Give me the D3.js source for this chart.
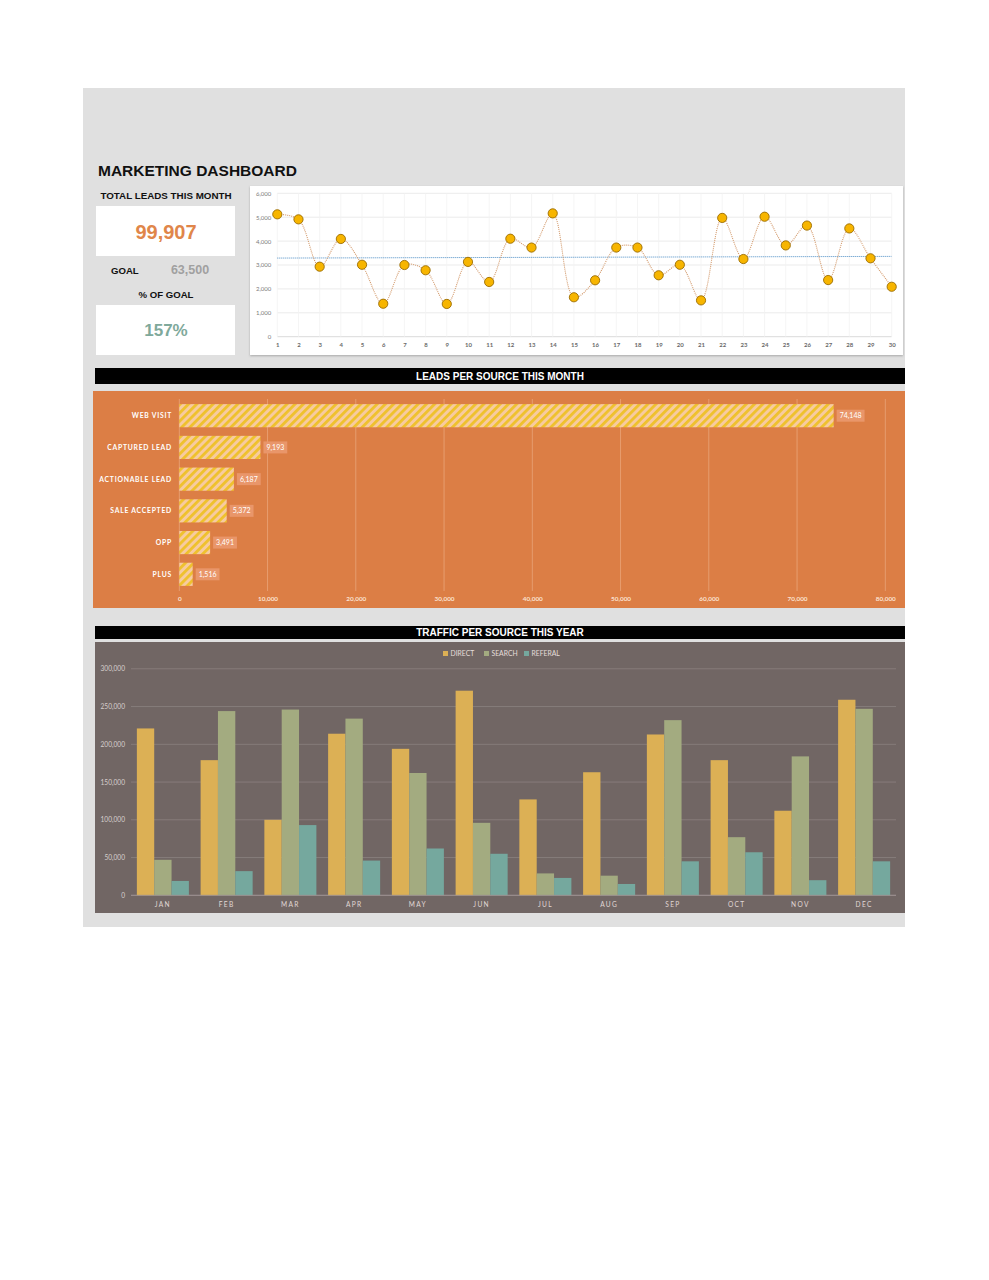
<!DOCTYPE html>
<html>
<head>
<meta charset="utf-8">
<script src="https://cdn.jsdelivr.net/npm/d3@7"></script>
<style>
  html, body { margin: 0; padding: 0; background: #ffffff; }
  svg { display: block; }
</style>
</head>
<body>
<svg id="chart" width="989" height="1280"></svg>
<script>
// ---------------- DATA ----------------
const totalLeads = "99,907";
const goalValue = "63,500";
const pctOfGoal = "157%";

const days = d3.range(1, 31);
const dailyLeads = [5120, 4910, 2930, 4090, 3010, 1380, 3000, 2780, 1370, 3130,
                    2290, 4100, 3730, 5160, 1650, 2360, 3730, 3730, 2570, 3010,
                    1520, 4970, 3250, 5020, 3820, 4650, 2370, 4530, 3280, 2090];
const trendLine = [3290, 3360];           // values at day 1 and day 30
const lineTicks = [0, 1000, 2000, 3000, 4000, 5000, 6000];

const sources = ["WEB VISIT", "CAPTURED LEAD", "ACTIONABLE LEAD", "SALE ACCEPTED", "OPP", "PLUS"];
const sourceLeads = [74148, 9193, 6187, 5372, 3491, 1516];
const sourceTicks = [0, 10000, 20000, 30000, 40000, 50000, 60000, 70000, 80000];

const months = ["JAN", "FEB", "MAR", "APR", "MAY", "JUN", "JUL", "AUG", "SEP", "OCT", "NOV", "DEC"];
const trafficSeries = ["DIRECT", "SEARCH", "REFERAL"];
const direct  = [221000, 179000, 100000, 214000, 194000, 271000, 127000, 163000, 213000, 179000, 112000, 259000];
const search  = [47000, 244000, 246000, 234000, 162000, 96000, 29000, 26000, 232000, 77000, 184000, 247000];
const referal = [19000, 32000, 93000, 46000, 62000, 55000, 23000, 15000, 45000, 57000, 20000, 45000];
const trafficTicks = [0, 50000, 100000, 150000, 200000, 250000, 300000];

// ---------------- DRAW ----------------
const svg = d3.select("#chart");
const fmt = d3.format(",");
const sans = "'Liberation Sans', Arial, sans-serif";
const chartFont = "Lato, 'Open Sans', sans-serif";

// gray dashboard background
svg.append("rect").attr("x", 83).attr("y", 88).attr("width", 822).attr("height", 839).attr("fill", "#e0e0e0");

// title
svg.append("text").attr("x", 98).attr("y", 176).text("MARKETING DASHBOARD")
  .attr("font-family", sans).attr("font-weight", "bold").attr("font-size", 15.5).attr("fill", "#111");

// KPI panel
svg.append("text").attr("x", 166).attr("y", 199).attr("text-anchor", "middle").text("TOTAL LEADS THIS MONTH")
  .attr("font-family", sans).attr("font-weight", "bold").attr("font-size", 9.8).attr("fill", "#111");
svg.append("rect").attr("x", 96).attr("y", 206).attr("width", 139).attr("height", 50).attr("fill", "#fff");
svg.append("text").attr("x", 166).attr("y", 239).attr("text-anchor", "middle").text(totalLeads)
  .attr("font-family", sans).attr("font-weight", "bold").attr("font-size", 20).attr("fill", "#e0864a");
svg.append("text").attr("x", 111).attr("y", 274).text("GOAL")
  .attr("font-family", sans).attr("font-weight", "bold").attr("font-size", 9.6).attr("fill", "#111");
svg.append("text").attr("x", 190).attr("y", 274).attr("text-anchor", "middle").text(goalValue)
  .attr("font-family", sans).attr("font-weight", "bold").attr("font-size", 12.5).attr("fill", "#a0a0a0");
svg.append("text").attr("x", 166).attr("y", 298).attr("text-anchor", "middle").text("% OF GOAL")
  .attr("font-family", sans).attr("font-weight", "bold").attr("font-size", 9.6).attr("fill", "#111");
svg.append("rect").attr("x", 96).attr("y", 305).attr("width", 139).attr("height", 50).attr("fill", "#fff");
svg.append("text").attr("x", 166).attr("y", 336).attr("text-anchor", "middle").text(pctOfGoal)
  .attr("font-family", sans).attr("font-weight", "bold").attr("font-size", 17).attr("fill", "#7fa99b");

// ---------- Line chart ----------
const defs = svg.append("defs");
const sh = defs.append("filter").attr("id", "shadow").attr("x", "-5%").attr("y", "-5%").attr("width", "110%").attr("height", "115%");
sh.append("feDropShadow").attr("dx", 0).attr("dy", 1).attr("stdDeviation", 1.2).attr("flood-color", "#000").attr("flood-opacity", 0.25);

svg.append("rect").attr("x", 250).attr("y", 186).attr("width", 653).attr("height", 169).attr("fill", "#fff").attr("filter", "url(#shadow)");

const lx = d3.scalePoint().domain(days).range([277.3, 891.7]);
const ly = d3.scaleLinear().domain([0, 6000]).range([336.7, 193.3]);

const lg = svg.append("g");
// horizontal gridlines
lg.selectAll("line.hg").data(lineTicks).join("line")
  .attr("x1", lx(1)).attr("x2", lx(30)).attr("y1", d => ly(d)).attr("y2", d => ly(d))
  .attr("stroke", d => d === 0 ? "#d0d0d0" : "#e6e6e6").attr("stroke-width", 0.8);
// vertical gridlines
lg.selectAll("line.vg").data(days).join("line")
  .attr("x1", d => lx(d)).attr("x2", d => lx(d)).attr("y1", ly(6000)).attr("y2", ly(0))
  .attr("stroke", "#f2f2f2").attr("stroke-width", 0.8);

const yAxisL = d3.axisLeft(ly).tickValues(lineTicks).tickFormat(fmt).tickSize(0).tickPadding(6);
const gyl = svg.append("g").attr("transform", `translate(${lx(1)},0)`).call(yAxisL);
gyl.select(".domain").remove();
gyl.selectAll("text").attr("font-family", chartFont).attr("font-size", 6).attr("fill", "#7a7a7a");

const xAxisL = d3.axisBottom(lx).tickSize(0).tickPadding(6);
const gxl = svg.append("g").attr("transform", `translate(0,${ly(0)})`).call(xAxisL);
gxl.select(".domain").remove();
gxl.selectAll("text").attr("font-family", chartFont).attr("font-weight", "bold").attr("font-size", 6).attr("fill", "#6a6a6a");

// trend line
lg.append("line")
  .attr("x1", lx(1)).attr("x2", lx(30)).attr("y1", ly(trendLine[0])).attr("y2", ly(trendLine[1]))
  .attr("stroke", "#4a8cc4").attr("stroke-width", 1).attr("stroke-dasharray", "1,1");

// smooth dotted line
const line = d3.line().x((d, i) => lx(days[i])).y(d => ly(d)).curve(d3.curveCatmullRom.alpha(0.5));
lg.append("path").datum(dailyLeads).attr("d", line)
  .attr("fill", "none").attr("stroke", "#d39a6c").attr("stroke-width", 1.1).attr("stroke-dasharray", "1,1");

lg.selectAll("circle").data(dailyLeads).join("circle")
  .attr("cx", (d, i) => lx(days[i])).attr("cy", d => ly(d)).attr("r", 4.6)
  .attr("fill", "#f7b500").attr("stroke", "#9a6b00").attr("stroke-width", 0.9);

// ---------- Banner 1 ----------
svg.append("rect").attr("x", 95).attr("y", 368).attr("width", 810).attr("height", 16).attr("fill", "#000");
svg.append("text").attr("x", 500).attr("y", 380).attr("text-anchor", "middle").text("LEADS PER SOURCE THIS MONTH")
  .attr("font-family", sans).attr("font-weight", "bold").attr("font-size", 10).attr("fill", "#fff");

// ---------- Horizontal bar chart ----------
svg.append("rect").attr("x", 93).attr("y", 391).attr("width", 812).attr("height", 217).attr("fill", "#dc7e45");

const pat = defs.append("pattern").attr("id", "stripes").attr("patternUnits", "userSpaceOnUse")
  .attr("width", 5.8).attr("height", 5.8).attr("patternTransform", "rotate(45)");
pat.append("rect").attr("width", 5.8).attr("height", 5.8).attr("fill", "#f7cba0");
pat.append("rect").attr("width", 2.8).attr("height", 5.8).attr("fill", "#efc12c");

const bx = d3.scaleLinear().domain([0, 80000]).range([179.3, 885.3]);
const by = d3.scaleBand().domain(sources).range([400, 590]).paddingInner(0.27).paddingOuter(0.13);

const bg = svg.append("g");
bg.selectAll("line.g").data(sourceTicks).join("line")
  .attr("x1", d => bx(d)).attr("x2", d => bx(d)).attr("y1", 399).attr("y2", 591)
  .attr("stroke", "#eaa47a").attr("stroke-width", 0.8);

bg.selectAll("rect.bar").data(sourceLeads).join("rect")
  .attr("x", bx(0)).attr("y", (d, i) => by(sources[i])).attr("width", d => bx(d) - bx(0)).attr("height", by.bandwidth())
  .attr("fill", "url(#stripes)");

// value labels with boxes
const vl = bg.selectAll("g.vl").data(sourceLeads).join("g")
  .attr("transform", (d, i) => `translate(${bx(d) + 3},${by(sources[i]) + by.bandwidth() / 2})`);
vl.each(function(d) {
  const g = d3.select(this);
  const t = g.append("text").attr("x", 3).attr("y", 2.6).text(fmt(d))
    .attr("font-family", chartFont).attr("font-size", 7).attr("fill", "#fff");
  const w = t.node().getComputedTextLength();
  g.insert("rect", "text").attr("x", 0).attr("y", -6).attr("width", w + 6).attr("height", 12).attr("fill", "#e9966a");
});

// category labels
bg.selectAll("text.cat").data(sources).join("text")
  .attr("x", 172).attr("y", d => by(d) + by.bandwidth() / 2 + 2.5).attr("text-anchor", "end").text(d => d)
  .attr("font-family", chartFont).attr("font-weight", "bold").attr("font-size", 6.8).attr("letter-spacing", 0.75)
  .attr("fill", "#fff");

const xAxisB = d3.axisBottom(bx).tickValues(sourceTicks).tickFormat(fmt).tickSize(0).tickPadding(0);
const gxb = svg.append("g").attr("transform", `translate(0,596)`).call(xAxisB);
gxb.select(".domain").remove();
gxb.selectAll("text").attr("font-family", chartFont).attr("font-weight", "bold").attr("font-size", 6.4).attr("fill", "#fbe3d2");

// ---------- Banner 2 ----------
svg.append("rect").attr("x", 95).attr("y", 626).attr("width", 810).attr("height", 13).attr("fill", "#000");
svg.append("text").attr("x", 500).attr("y", 636).attr("text-anchor", "middle").text("TRAFFIC PER SOURCE THIS YEAR")
  .attr("font-family", sans).attr("font-weight", "bold").attr("font-size", 10).attr("fill", "#fff");

// ---------- Column chart ----------
svg.append("rect").attr("x", 95).attr("y", 642).attr("width", 810).attr("height", 271).attr("fill", "#716664");

const colors = ["#dcb055", "#a3ab80", "#75a89e"];
const seriesData = [direct, search, referal];

const cx = d3.scaleBand().domain(months).range([131, 896]).paddingInner(0.184).paddingOuter(0.092);
const cs = d3.scaleBand().domain(trafficSeries).range([0, cx.bandwidth()]);
const cy = d3.scaleLinear().domain([0, 300000]).range([895.3, 668.8]);

const cg = svg.append("g");
cg.selectAll("line.g").data(trafficTicks).join("line")
  .attr("x1", 131).attr("x2", 896).attr("y1", d => cy(d)).attr("y2", d => cy(d))
  .attr("stroke", d => d === 0 ? "#9d9290" : "#8c8280").attr("stroke-width", 0.8);

trafficSeries.forEach((s, si) => {
  cg.selectAll(`rect.s${si}`).data(seriesData[si]).join("rect")
    .attr("x", (d, i) => cx(months[i]) + cs(s)).attr("y", d => cy(d))
    .attr("width", cs.bandwidth()).attr("height", d => cy(0) - cy(d))
    .attr("fill", colors[si]);
});
// redraw baseline on top
cg.append("line").attr("x1", 131).attr("x2", 896).attr("y1", cy(0)).attr("y2", cy(0))
  .attr("stroke", "#9d9290").attr("stroke-width", 0.8);

const yAxisC = d3.axisLeft(cy).tickValues(trafficTicks).tickFormat(fmt).tickSize(0).tickPadding(6);
const gyc = svg.append("g").attr("transform", `translate(131,0)`).call(yAxisC);
gyc.select(".domain").remove();
gyc.selectAll("text").attr("font-family", chartFont).attr("font-size", 6.6).attr("fill", "#d8cfcc");

const xAxisC = d3.axisBottom(cx).tickSize(0).tickPadding(7);
const gxc = svg.append("g").attr("transform", `translate(0,${cy(0)})`).call(xAxisC);
gxc.select(".domain").remove();
gxc.selectAll("text").attr("font-family", chartFont).attr("font-size", 6.6).attr("letter-spacing", 1.3).attr("fill", "#e0d8d5");

// legend
const legX = [443, 484, 524];
const leg = svg.append("g").selectAll("g").data(trafficSeries).join("g")
  .attr("transform", (d, i) => `translate(${legX[i]},654)`);
leg.append("rect").attr("x", 0).attr("y", -3).attr("width", 5).attr("height", 5).attr("fill", (d, i) => colors[i]);
leg.append("text").attr("x", 7.5).attr("y", 2.2).text(d => d)
  .attr("font-family", chartFont).attr("font-size", 6.8).attr("fill", "#e6dedb");
</script>
</body>
</html>
